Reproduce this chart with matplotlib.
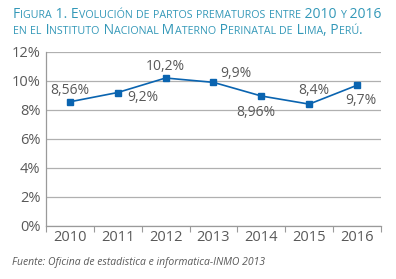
import matplotlib
matplotlib.use("Agg")
import matplotlib.pyplot as plt
from matplotlib.transforms import offset_copy

years = ["2010", "2011", "2012", "2013", "2014", "2015", "2016"]
rates = [8.56, 9.2, 10.2, 9.9, 8.96, 8.4, 9.7]
labels = ["8,56%", "9,2%", "10,2%", "9,9%", "8,96%", "8,4%", "9,7%"]
# label offsets in points (dx, dy)
label_offsets = [(0, 8.4), (18, -3.6), (0, 8.6), (16.5, 6.5), (-4, -12), (3, 9.5), (2.7, -10.8)]

title_lines = ["Figura 1. Evolución de partos prematuros entre 2010 y 2016",
               "en el Instituto Nacional Materno Perinatal de Lima, Perú."]
source = "Fuente: Oficina de estadistica e informatica-INMO 2013"

plt.rcParams['font.family'] = ['Open Sans', 'DejaVu Sans']
txt_col = '#595959'
line_col = '#0a64b0'
title_col = '#3398b8'

fig = plt.figure(figsize=(3.96, 2.79), dpi=100)
ax = fig.add_axes([0.116, 0.19, 0.846, 0.624])

x = list(range(len(years)))
ax.plot(x, rates, color=line_col, lw=1.2, marker='s', ms=4.6, zorder=3)
for i, (lab, off) in enumerate(zip(labels, label_offsets)):
    ax.annotate(lab, (x[i], rates[i]), xytext=off, textcoords='offset points',
                ha='center', va='center', fontsize=10, color=txt_col)

ax.set_xlim(-0.5, 6.5)
ax.set_ylim(0, 12)
ax.set_yticks(range(0, 13, 2))
ax.set_yticklabels([f"{v}%" for v in range(0, 13, 2)], fontsize=10.5, color=txt_col)
ax.set_xticks(x)
ax.set_xticklabels(years, fontsize=10.5, color=txt_col)
ax.set_xticks([i - 0.5 for i in range(len(years) + 1)], minor=True)
ax.tick_params(axis='x', which='major', length=0, pad=3)
ax.tick_params(axis='x', which='minor', length=4, color='#9a9a9a', width=0.8)
ax.tick_params(axis='y', length=0, pad=4)
ax.grid(axis='y', color='#b0b0b0', lw=0.9)
ax.set_axisbelow(True)
for s in ['top', 'right']:
    ax.spines[s].set_visible(False)
for s in ['left', 'bottom']:
    ax.spines[s].set_color('#9a9a9a')
    ax.spines[s].set_linewidth(0.9)

# small-caps title drawn run by run
renderer = fig.canvas.get_renderer()
def small_caps(text, xpos, ypos, big=10, small=7.7):
    runs = []
    for ch in text:
        is_small = ch.islower()
        if runs and runs[-1][1] == is_small:
            runs[-1][0] += ch
        else:
            runs.append([ch, is_small])
    trans = fig.transFigure
    for s, is_small in runs:
        t = fig.text(xpos, ypos, s.upper() if is_small else s, transform=trans,
                     fontsize=small if is_small else big, color=title_col,
                     va='baseline', ha='left')
        w = t.get_window_extent(renderer).width
        trans = offset_copy(trans, fig=fig, x=w, y=0, units='dots')

small_caps(title_lines[0], 13 / 396, 1 - 18.5 / 279)
small_caps(title_lines[1], 13 / 396, 1 - 34 / 279)

fig.text(12 / 396, 1 - 265 / 279, source, fontsize=7.5, style='italic', color=txt_col)

fig.savefig("out.png", dpi=100)
